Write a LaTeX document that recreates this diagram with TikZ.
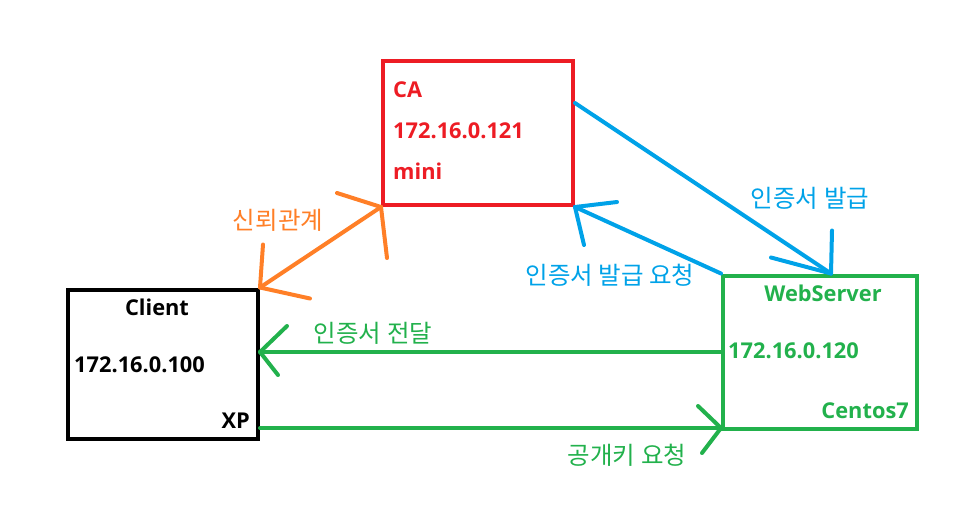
\documentclass[tikz,border=0pt]{standalone}
\usepackage{fontspec}
\setmainfont{Open Sans}
\newfontfamily\kr{Noto Sans CJK KR}
\usetikzlibrary{calc}
\definecolor{pred}{RGB}{237,28,36}
\definecolor{pblue}{RGB}{0,162,232}
\definecolor{porange}{RGB}{255,127,39}
\definecolor{pgreen}{RGB}{34,177,76}
\tikzset{
  box/.style={draw, line width=4, minimum width=#1, inner sep=0pt},
  lbl/.style={font=\bfseries\fontsize{21.8}{24}\selectfont, inner sep=0pt},
  klbl/.style={font=\kr\fontsize{24.5}{28}\selectfont, inner sep=0pt},
  conn/.style={line width=4, line cap=round, line join=round},
}
\begin{document}
\begin{tikzpicture}[x=1pt,y=-1pt]
\useasboundingbox (0,0) rectangle (973,507);
% boxes
\node[box=190, minimum height=149, draw=black] (cl) at (163,364) {};
\node[box=190, minimum height=144, draw=pred] (ca) at (478,133) {};
\node[box=194, minimum height=153, draw=pgreen] (web) at (820,352) {};
% texts in boxes
\node[lbl, text=pred, anchor=west] (caname) at (393,90) {CA};
\node[lbl, text=pred, anchor=west] (caip) at (393,131) {172.16.0.121};
\node[lbl, text=pred, anchor=west] (caos) at (393,171) {mini};
\node[lbl, anchor=center] (clname) at (157,307) {Client};
\node[lbl, anchor=west] (clip) at (74,365) {172.16.0.100};
\node[lbl, anchor=east] (clos) at (250,421) {XP};
\node[lbl, text=pgreen, anchor=center] (webname) at (823,293) {WebServer};
\node[lbl, text=pgreen, anchor=west] (webip) at (728,351) {172.16.0.120};
\node[lbl, text=pgreen, anchor=east] (webos) at (909,411) {Centos7};
% connector coordinates
\coordinate (clTR) at (cl.north east);
\coordinate (caBL) at (ca.south west);
\coordinate (caR) at ($(ca.east)+(0,-30)$);
\coordinate (webTop) at ($(web.north)+(11,0)$);
\coordinate (webTL) at (web.north west);
\coordinate (caBR) at (ca.south east);
\coordinate (webL1) at ($(web.west)+(0,0)$);
\coordinate (clR1) at ($(cl.east)+(0,-11)$);
\coordinate (clR2) at ($(cl.east)+(0,64)$);
\coordinate (webL2) at ($(web.west)+(0,76)$);
% orange trust relation
\draw[conn, porange] (clTR) -- (caBL);
\draw[conn, porange] (caBL) -- ++(-44,-14);
\draw[conn, porange] (caBL) -- ++(6,51);
\draw[conn, porange] (clTR) -- ++(3,-43);
\draw[conn, porange] (clTR) -- ++(50,11);
% blue issue
\draw[conn, pblue] (caR) -- (webTop);
\draw[conn, pblue] (webTop) -- ++(1,-43);
\draw[conn, pblue] (webTop) -- ++(-60,-16);
% blue request
\draw[conn, pblue] (webTL) -- (caBR);
\draw[conn, pblue] (caBR) -- ++(42,-5);
\draw[conn, pblue] (caBR) -- ++(9,38);
% green deliver
\draw[conn, pgreen] (webL1) -- (clR1 |- webL1) coordinate (tipA);
\draw[conn, pgreen] (tipA) -- ++(27,-26);
\draw[conn, pgreen] (tipA) -- ++(18,23);
% green public key request
\draw[conn, pgreen] (clR2) -- (webL2 |- clR2) coordinate (tipB);
\draw[conn, pgreen] (tipB) -- ++(-23,-22);
\draw[conn, pgreen] (tipB) -- ++(-19,25);
% labels
\node[klbl, text=porange] (l1) at (278,220) {신뢰관계};
\node[klbl, text=pblue] (l2) at (810,198) {인증서 발급};
\node[klbl, text=pblue] (l3) at (610,275) {인증서 발급 요청};
\node[klbl, text=pgreen] (l4) at (373,333) {인증서 전달};
\node[klbl, text=pgreen] (l5) at (627,455) {공개키 요청};
\end{tikzpicture}
\end{document}
